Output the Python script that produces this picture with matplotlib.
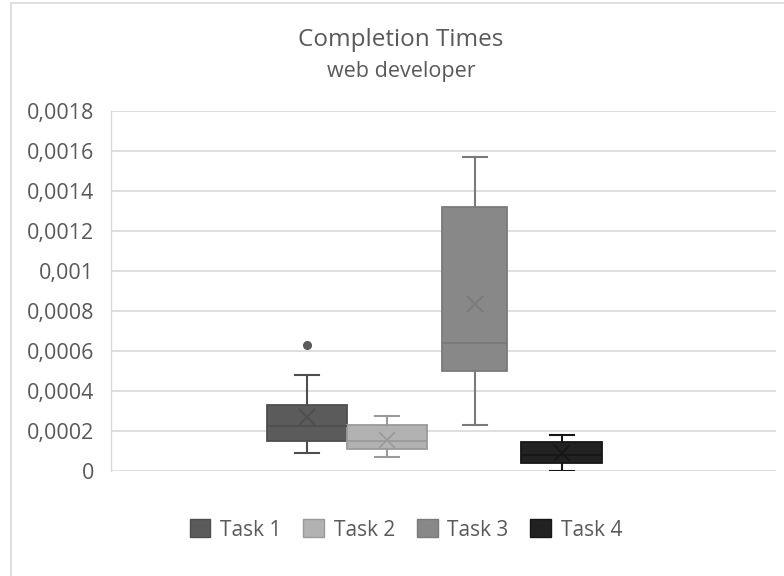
import matplotlib
matplotlib.use("Agg")
import matplotlib.pyplot as plt
from matplotlib.patches import Rectangle, Patch

# ---- data ----
tasks = ["Task 1", "Task 2", "Task 3", "Task 4"]
whislo = [0.00009, 0.00007, 0.00023, 0.0]
q1 = [0.00015, 0.00011, 0.00050, 0.00004]
med = [0.000226, 0.00015, 0.00064, 0.00008]
q3 = [0.00033, 0.00023, 0.00132, 0.000143]
whishi = [0.00048, 0.000277, 0.00157, 0.00018]
means = [0.000272, 0.000155, 0.000835, 0.00009]
fliers = [[0.00063], [], [], []]
y_ticks = [0, 0.0002, 0.0004, 0.0006, 0.0008, 0.001, 0.0012, 0.0014, 0.0016, 0.0018]
y_tick_labels = ["0", "0,0002", "0,0004", "0,0006", "0,0008", "0,001",
                 "0,0012", "0,0014", "0,0016", "0,0018"]

# ---- style ----
fills = ["#5b5b5b", "#b2b2b2", "#888888", "#222222"]
edges = ["#4e4e4e", "#9a9a9a", "#7a7a7a", "#161616"]
positions = [0.2947, 0.415, 0.547, 0.678]
widths = [0.120, 0.120, 0.098, 0.122]
text_color = "#595959"
font = ["Open Sans", "DejaVu Sans"]
plt.rcParams["font.family"] = font

fig = plt.figure(figsize=(7.84, 5.76), dpi=100)
fig.patch.set_facecolor("white")
# outer chart border
fig.patches.append(Rectangle((11 / 784, -0.1), 1.2, (576 - 3) / 576 + 0.1,
                             transform=fig.transFigure, fill=False,
                             edgecolor="#d9d9d9", linewidth=1.2, zorder=0))

ax = fig.add_axes([111 / 784, (576 - 471) / 576, (776 - 111) / 784, 360 / 576])
ax.set_xlim(0, 1)
ax.set_ylim(0, 0.0018)

for i in range(len(tasks)):
    stats = [dict(whislo=whislo[i], q1=q1[i], med=med[i], q3=q3[i],
                  whishi=whishi[i], mean=means[i], fliers=fliers[i], label=tasks[i])]
    ax.bxp(stats, positions=[positions[i]], widths=[widths[i]],
           capwidths=[0.036], patch_artist=True, showmeans=True,
           boxprops=dict(facecolor=fills[i], edgecolor=edges[i], linewidth=1.3),
           medianprops=dict(color=edges[i], linewidth=1.3),
           whiskerprops=dict(color=edges[i], linewidth=1.5),
           capprops=dict(color=edges[i], linewidth=1.5),
           meanprops=dict(marker="x", markeredgecolor=edges[i], markersize=11,
                          markeredgewidth=1.3),
           flierprops=dict(marker="o", markerfacecolor=fills[i],
                           markeredgecolor=fills[i], markersize=5.5),
           manage_ticks=False, zorder=3)

ax.set_yticks(y_ticks)
ax.set_yticklabels(y_tick_labels, color=text_color, fontsize=15.5)
ax.set_xticks([])
ax.tick_params(axis="y", length=0, pad=12)
ax.grid(axis="y", color="#d9d9d9", linewidth=1.2, zorder=0)
ax.set_axisbelow(True)
for s in ["top", "right", "bottom"]:
    ax.spines[s].set_visible(False)
ax.spines["left"].set_color("#d9d9d9")
ax.spines["left"].set_linewidth(1.0)

fig.text(401 / 784, 1 - 40 / 576, "Completion Times", ha="center", va="center",
         fontsize=17.5, color=text_color)
fig.text(401 / 784, 1 - 72 / 576, "web developer", ha="center", va="center",
         fontsize=15.5, color=text_color)

handles = [Patch(facecolor=fills[i], edgecolor=edges[i], label=tasks[i]) for i in range(len(tasks))]
leg = fig.legend(handles=handles, loc="center", bbox_to_anchor=(406 / 784, 1 - 530 / 576),
                 ncol=4, frameon=False, fontsize=15, handlelength=1.0, handleheight=0.95,
                 handletextpad=0.47, columnspacing=1.04, borderpad=0, borderaxespad=0)
for t in leg.get_texts():
    t.set_color(text_color)

fig.savefig("out.png", dpi=100, facecolor="white")
